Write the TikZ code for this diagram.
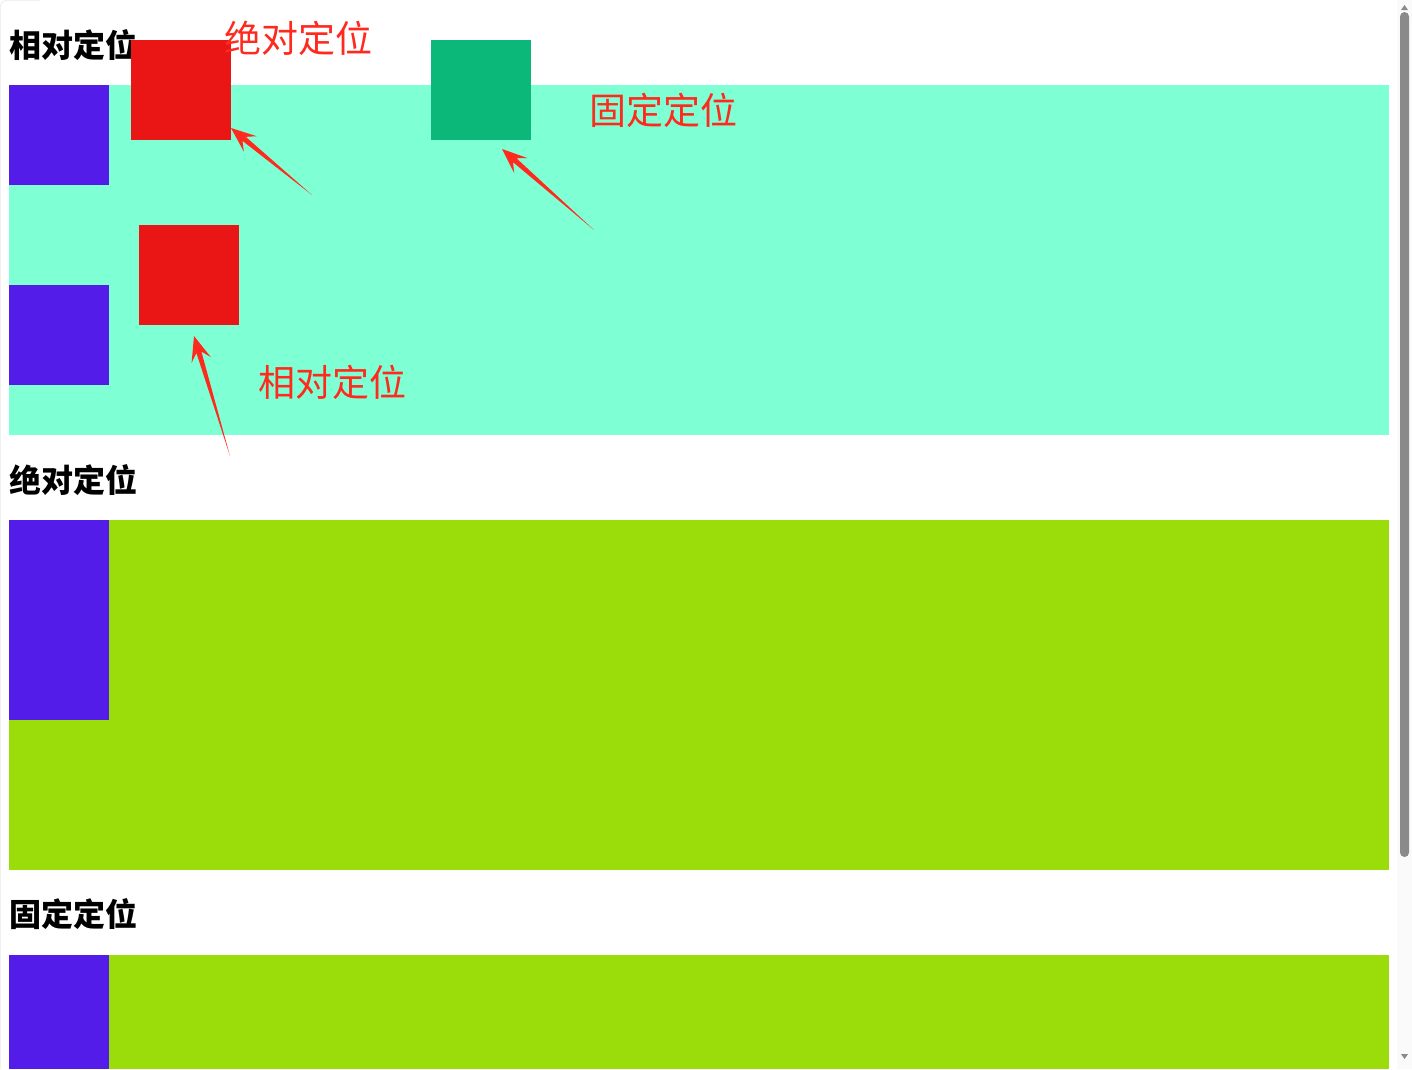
\documentclass[tikz,border=0pt]{standalone}
\usepackage{fontspec}
\newfontfamily\cjk{Noto Sans CJK SC}
\usetikzlibrary{positioning,arrows.meta,calc}

\definecolor{aquaband}{HTML}{7FFFD4}
\definecolor{limeband}{HTML}{9BDC0B}
\definecolor{boxpurple}{HTML}{531CE8}
\definecolor{boxred}{HTML}{EA1616}
\definecolor{boxgreen}{HTML}{0BB87A}
\definecolor{notered}{HTML}{FF2A1E}
\definecolor{thumbgray}{HTML}{8A8A8A}

\begin{document}
\begin{tikzpicture}[x=1pt, y=-1pt,
    box/.style={minimum width=100pt, minimum height=100pt, inner sep=0pt, outer sep=0pt, anchor=north west},
    heading/.style={font=\cjk\bfseries\fontsize{32}{32}\selectfont, anchor=west, inner sep=0pt},
    note/.style={text=notered, font=\cjk\fontsize{37}{37}\selectfont, anchor=west, inner sep=0pt}]
    \useasboundingbox (0,0) rectangle (1412,1069);
    \fill[white] (0,0) rectangle (1412,1069);
    \draw[gray!30, rounded corners=6pt] (0.5,1069) -- (0.5,0.5) -- (40,0.5);
    % bands
    \fill[aquaband] (9,85)  rectangle (1389,435);
    \fill[limeband] (9,520) rectangle (1389,870);
    \fill[limeband] (9,955) rectangle (1389,1069);
    \node[box, fill=boxpurple] (relA)  at (9,85)  {};
    \node[box, fill=boxpurple] (relB)  at (9,285) {};
    \node[box, fill=boxpurple, minimum height=200pt] (absA) at (9,520) {};
    \node[box, fill=boxpurple, minimum height=114pt] (fixA) at (9,955) {};
    % headings
    \node[heading] (hrel) at (9,45)  {相对定位};
    \node[heading] (habs) at (9,480) {绝对定位};
    \node[heading] (hfix) at (9,914) {固定定位};
    % positioned boxes
    \node[box, fill=boxred]   (absbox) at (131,40)  {};
    \node[box, fill=boxred]   (relbox) at (139,225) {};
    \node[box, fill=boxgreen] (fixbox) at (431,40)  {};
    % notes
    \node[note] (nabs) at (224,38)  {绝对定位};
    \node[note] (nfix) at (589,110) {固定定位};
    \node[note] (nrel) at (258,382) {相对定位};
    % tapered pointers
    \coordinate (tabs) at (312,195);
    \coordinate (tfix) at (594,230);
    \coordinate (trel) at (230,456);
    \coordinate (pabs) at ($(absbox.south east)+(0,-12)$);
    \coordinate (pfix) at ($(fixbox.south)+(21,9)$);
    \coordinate (prel) at ($(relbox.south)+(5,11)$);
    \foreach \t/\p in {tabs/pabs, tfix/pfix, trel/prel}{
      \coordinate (n) at ($(\p)!17pt!(\t)$);
      \coordinate (b) at ($(\p)!25pt!(\t)$);
      \fill[notered] (\t) -- ($(n)!2.6pt!90:(\t)$) -- ($(b)!10pt!90:(\t)$) -- (\p)
        -- ($(b)!10pt!-90:(\t)$) -- ($(n)!2.6pt!-90:(\t)$) -- cycle;
    }
    % scrollbar
    \fill[gray!4] (1397,0) rectangle (1412,1069);
    \fill[thumbgray, rounded corners=4.5pt] (1400,12) rectangle (1409,857);
    \fill[thumbgray] (1401,10) -- (1404.5,5) -- (1408,10) -- cycle;
    \fill[thumbgray] (1401,1054) -- (1408,1054) -- (1404.5,1059) -- cycle;
\end{tikzpicture}
\end{document}
